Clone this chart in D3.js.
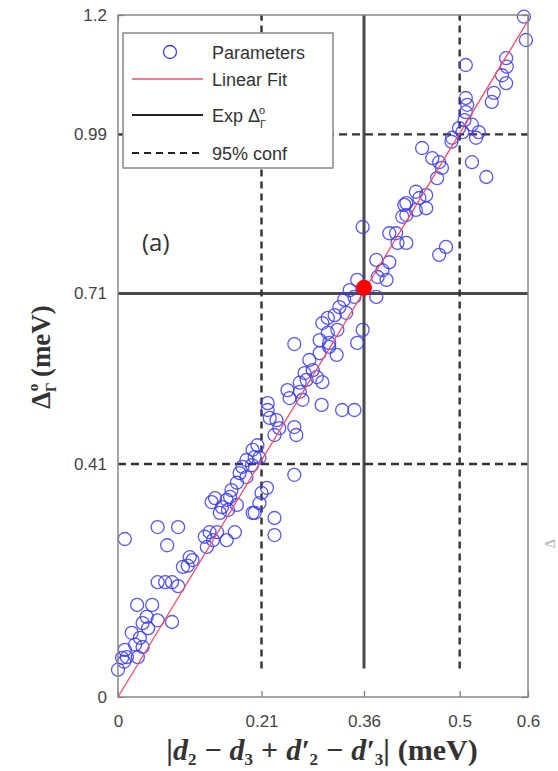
<!DOCTYPE html>
<html>
<head>
<meta charset="utf-8">
<script src="https://cdn.jsdelivr.net/npm/d3@7"></script>
<style>
  body { margin: 0; background: #fff; }
  svg { display: block; }
  .tick text { font-family: "Liberation Sans", Arial, sans-serif; font-size: 17px; fill: #444; }
</style>
</head>
<body>
<div id="chart"></div>
<script>
// data
var paramX = [0.000,0.006,0.010,0.013,0.020,0.029,0.032,0.036,0.028,0.050,0.036,0.042,0.058,0.079,0.009,0.044,0.025,
  0.010,0.058,0.088,0.072,0.058,0.069,0.079,0.088,0.095,0.102,0.109,0.105,0.127,0.134,0.145,0.139,0.159,0.171,0.130,
  0.149,0.161,0.174,0.197,0.137,0.152,0.159,0.166,0.174,0.178,0.182,0.188,0.197,0.200,0.207,0.142,0.164,0.188,0.210,
  0.218,0.207,0.200,0.229,0.229,0.258,0.219,0.219,0.222,0.232,0.236,0.229,0.258,0.261,0.248,0.251,0.270,0.298,0.328,
  0.266,0.276,0.285,0.299,0.280,0.295,0.309,0.320,0.258,0.273,0.291,0.266,0.295,0.309,0.307,0.321,0.324,0.334,0.317,
  0.307,0.299,0.350,0.358,0.346,0.350,0.378,0.378,0.397,0.387,0.393,0.380,0.358,0.422,0.436,0.416,0.407,0.397,0.422,
  0.409,0.470,0.480,0.436,0.441,0.451,0.451,0.419,0.422,0.445,0.460,0.470,0.474,0.467,0.518,0.539,0.509,0.509,0.509,
  0.507,0.518,0.499,0.504,0.528,0.524,0.489,0.488,0.511,0.594,0.597,0.568,0.569,0.562,0.568,0.550,0.547,0.339,0.331,
  0.346,0.204,0.196];
var paramY = [0.048,0.069,0.083,0.070,0.113,0.070,0.104,0.088,0.162,0.162,0.130,0.141,0.135,0.132,0.062,0.121,0.092,
  0.278,0.299,0.299,0.267,0.202,0.202,0.202,0.195,0.229,0.231,0.241,0.246,0.282,0.290,0.290,0.276,0.276,0.290,0.264,
  0.324,0.329,0.338,0.324,0.343,0.334,0.347,0.364,0.377,0.394,0.405,0.417,0.435,0.422,0.421,0.350,0.352,0.387,0.359,
  0.368,0.341,0.324,0.315,0.285,0.391,0.517,0.505,0.491,0.487,0.473,0.461,0.475,0.461,0.540,0.526,0.523,0.514,0.505,
  0.553,0.558,0.575,0.554,0.593,0.605,0.616,0.602,0.621,0.570,0.563,0.537,0.628,0.623,0.641,0.646,0.686,0.676,0.672,
  0.667,0.658,0.623,0.646,0.505,0.734,0.704,0.769,0.765,0.751,0.734,0.739,0.827,0.869,0.857,0.845,0.816,0.816,0.799,
  0.799,0.778,0.792,0.889,0.878,0.883,0.860,0.866,0.848,0.966,0.948,0.941,0.931,0.913,0.941,0.915,1.112,1.054,1.029,
  1.015,1.007,1.001,0.994,0.994,0.984,0.984,0.977,1.042,1.197,1.156,1.124,1.109,1.094,1.080,1.063,1.047,0.716,0.699,
  0.704,0.443,0.408];

var fitX = [0, 0.6];
var fitY = [0, 1.19];

var expX = 0.36, expY = 0.71;          // solid lines
var confX = [0.21, 0.5], confY = [0.41, 0.99]; // dashed lines
var pointX = 0.36, pointY = 0.72;      // red marker
var lineYMin = 0.05;                   // vertical lines start here

var xTicks = [0, 0.21, 0.36, 0.5, 0.6];
var xTickLabels = ["0", "0.21", "0.36", "0.5", "0.6"];
var yTicks = [0, 0.41, 0.71, 0.99, 1.2];
var yTickLabels = ["0", "0.41", "0.71", "0.99", "1.2"];

var W = 558, H = 771;
var m = {top: 15, right: 30, bottom: 74, left: 118};

var svg = d3.select("#chart").append("svg")
    .attr("width", W)
    .attr("height", H);

var x = d3.scaleLinear().domain([0, 0.6]).range([m.left, W - m.right]);
var y = d3.scaleLinear().domain([0, 1.2]).range([H - m.bottom, m.top]);

// axes (inward ticks, MATLAB style box)
var xAxis = d3.axisBottom(x).tickValues(xTicks)
    .tickFormat(function(d, i) { return xTickLabels[i]; })
    .tickSizeInner(-6).tickSizeOuter(0).tickPadding(18);
var yAxis = d3.axisLeft(y).tickValues(yTicks)
    .tickFormat(function(d, i) { return yTickLabels[i]; })
    .tickSizeInner(-6).tickSizeOuter(0).tickPadding(11);

var gx = svg.append("g").attr("transform", "translate(0," + y(0) + ")").call(xAxis);
var gy = svg.append("g").attr("transform", "translate(" + x(0) + ",0)").call(yAxis);
var gxt = svg.append("g").attr("transform", "translate(0," + y(1.2) + ")")
    .call(d3.axisTop(x).tickValues(xTicks).tickFormat("").tickSizeInner(-6).tickSizeOuter(0));
var gyr = svg.append("g").attr("transform", "translate(" + x(0.6) + ",0)")
    .call(d3.axisRight(y).tickValues(yTicks).tickFormat("").tickSizeInner(-6).tickSizeOuter(0));

[gx, gy, gxt, gyr].forEach(function(g) {
  g.select(".domain").remove();
  g.selectAll(".tick line").attr("stroke", "#777").attr("stroke-width", 1.2);
});

// reference lines
var lineColor = "#4a4a4a";
svg.append("line")
    .attr("x1", x(0)).attr("x2", x(0.6))
    .attr("y1", y(expY)).attr("y2", y(expY))
    .attr("stroke", lineColor).attr("stroke-width", 3);
svg.append("line")
    .attr("x1", x(expX)).attr("x2", x(expX))
    .attr("y1", y(lineYMin)).attr("y2", y(1.2))
    .attr("stroke", lineColor).attr("stroke-width", 3);

confX.forEach(function(v) {
  svg.append("line")
      .attr("x1", x(v)).attr("x2", x(v))
      .attr("y1", y(lineYMin)).attr("y2", y(1.2))
      .attr("stroke", "#333").attr("stroke-width", 2.4)
      .attr("stroke-dasharray", "7,5");
});
confY.forEach(function(v) {
  svg.append("line")
      .attr("x1", x(0)).attr("x2", x(0.6))
      .attr("y1", y(v)).attr("y2", y(v))
      .attr("stroke", "#333").attr("stroke-width", 2.4)
      .attr("stroke-dasharray", "8,5");
});

// scatter
var pts = paramX.map(function(d, i) { return {x: d, y: paramY[i]}; });
svg.append("g").selectAll("circle")
    .data(pts)
  .enter().append("circle")
    .attr("cx", function(d) { return x(d.x); })
    .attr("cy", function(d) { return y(d.y); })
    .attr("r", 6.5)
    .attr("fill", "none")
    .attr("stroke", "#3b3bf0")
    .attr("stroke-opacity", 0.85)
    .attr("stroke-width", 1.3);

// linear fit
var line = d3.line().x(function(d) { return x(d[0]); }).y(function(d) { return y(d[1]); });
svg.append("path")
    .datum(d3.zip(fitX, fitY))
    .attr("d", line)
    .attr("fill", "none")
    .attr("stroke", "#f0506a")
    .attr("stroke-width", 1.3);

// experimental point
svg.append("circle")
    .attr("cx", x(pointX)).attr("cy", y(pointY))
    .attr("r", 8)
    .attr("fill", "#ff0000");

// frame
svg.append("rect")
    .attr("x", x(0)).attr("y", y(1.2))
    .attr("width", x(0.6) - x(0)).attr("height", y(0) - y(1.2))
    .attr("fill", "none").attr("stroke", "#888").attr("stroke-width", 1.5);

// panel tag
svg.append("text")
    .attr("x", 142).attr("y", 251)
    .attr("font-family", "'Open Sans', sans-serif")
    .attr("font-size", 24)
    .attr("fill", "#333")
    .text("(a)");

// legend
var lg = svg.append("g");
lg.append("rect")
    .attr("x", 123).attr("y", 33).attr("width", 210).attr("height", 135)
    .attr("fill", "#fff").attr("stroke", "#888").attr("stroke-width", 1.5);
var legFont = "'Liberation Sans', Arial, sans-serif";
var legY = [52, 79, 115, 153];
var legLabels = ["Parameters", "Linear Fit", "Exp Δ", "95% conf"];
lg.append("circle").attr("cx", 170).attr("cy", legY[0]).attr("r", 6.5)
    .attr("fill", "none").attr("stroke", "#3b3bf0").attr("stroke-width", 1.3);
lg.append("line").attr("x1", 132).attr("x2", 203).attr("y1", legY[1]).attr("y2", legY[1])
    .attr("stroke", "#f0506a").attr("stroke-width", 1.3);
lg.append("line").attr("x1", 132).attr("x2", 203).attr("y1", legY[2]).attr("y2", legY[2])
    .attr("stroke", "#222").attr("stroke-width", 2.2);
lg.append("line").attr("x1", 132).attr("x2", 203).attr("y1", legY[3]).attr("y2", legY[3])
    .attr("stroke", "#222").attr("stroke-width", 2.2).attr("stroke-dasharray", "7,5");
legLabels.forEach(function(t, i) {
  var tx = lg.append("text")
      .attr("x", 212).attr("y", legY[i] + 7)
      .attr("font-family", legFont).attr("font-size", 18).attr("fill", "#333")
      .text(t);
  if (i == 2) {
    tx.append("tspan").attr("font-size", 11).attr("dy", 6).text("Γ");
    tx.append("tspan").attr("font-size", 11).attr("dx", -7).attr("dy", -14).text("o");
  }
});

// axis labels
var serif = "'Liberation Serif', 'DejaVu Serif', serif";
var xl = svg.append("text")
    .attr("x", 322).attr("y", 760)
    .attr("text-anchor", "middle")
    .attr("font-family", serif).attr("font-size", 30).attr("font-weight", "bold")
    .attr("fill", "#333");
xl.append("tspan").text("|");
xl.append("tspan").attr("font-style", "italic").text("d");
xl.append("tspan").attr("font-size", 17).attr("dy", 5).text("2");
xl.append("tspan").attr("dy", -5).attr("dx", 8).text("−");
xl.append("tspan").attr("dx", 8).attr("font-style", "italic").text("d");
xl.append("tspan").attr("font-size", 17).attr("dy", 5).text("3");
xl.append("tspan").attr("dy", -5).attr("dx", 8).text("+");
xl.append("tspan").attr("dx", 8).attr("font-style", "italic").text("d′");
xl.append("tspan").attr("font-size", 17).attr("dy", 5).text("2");
xl.append("tspan").attr("dy", -5).attr("dx", 8).text("−");
xl.append("tspan").attr("dx", 8).attr("font-style", "italic").text("d′");
xl.append("tspan").attr("font-size", 17).attr("dy", 5).text("3");
xl.append("tspan").attr("dy", -5).text("|");
xl.append("tspan").attr("dx", 8).text("(meV)");

var yl = svg.append("text")
    .attr("transform", "translate(50,357) rotate(-90)")
    .attr("text-anchor", "middle")
    .attr("font-family", serif).attr("font-size", 27).attr("font-weight", "bold")
    .attr("fill", "#333");
yl.append("tspan").text("Δ");
yl.append("tspan").attr("font-size", 15).attr("dy", 6).text("Γ");
yl.append("tspan").attr("font-size", 15).attr("dx", -9).attr("dy", -18).text("o");
yl.append("tspan").attr("dy", 12).text(" (meV)");

// small fragment of the neighbouring panel at the right edge
svg.append("text")
    .attr("transform", "translate(555,548) rotate(-90)")
    .attr("font-family", serif).attr("font-size", 14).attr("font-weight", "bold")
    .attr("fill", "#bbb")
    .text("Δ");
</script>
</body>
</html>
